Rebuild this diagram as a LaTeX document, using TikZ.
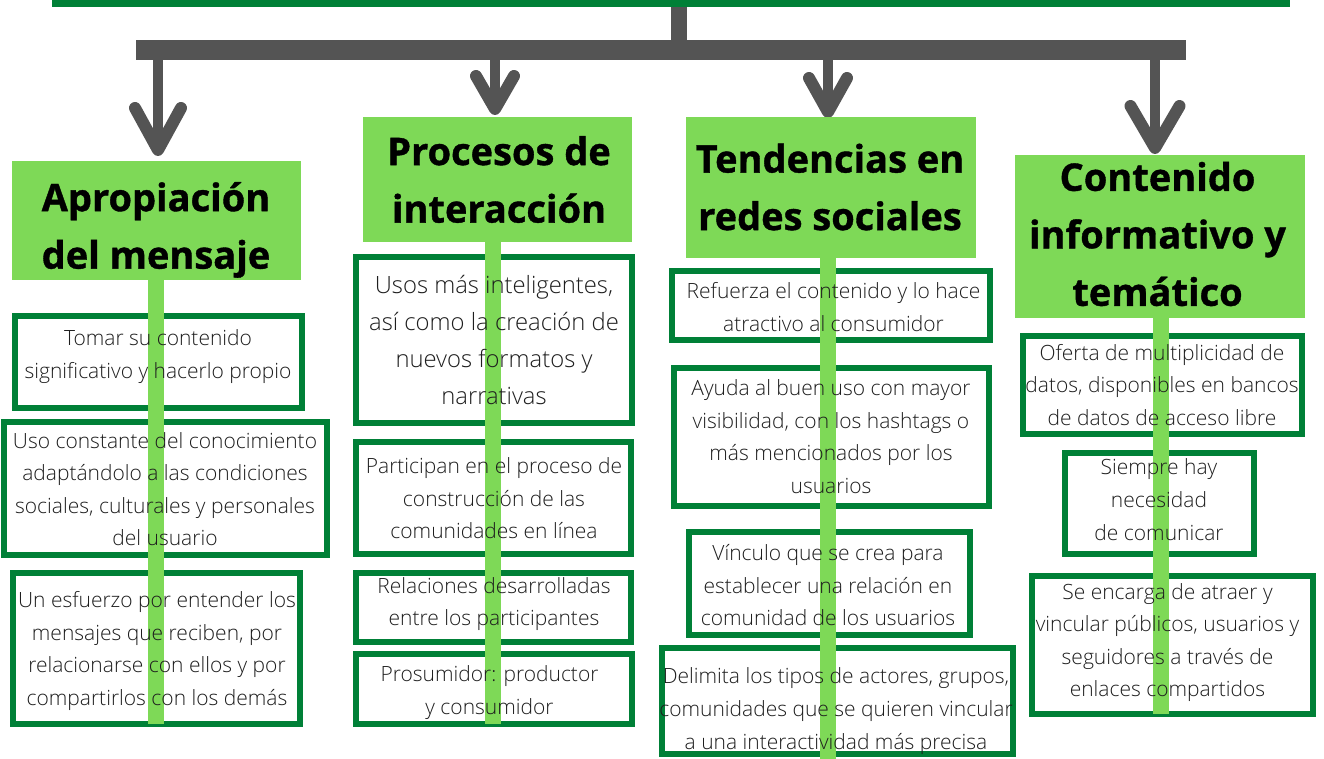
\documentclass[tikz,border=0pt]{standalone}
\usepackage{fontspec}
\setmainfont{Open Sans}
\newfontfamily\bodyfont{Open Sans Light}
\newfontfamily\headfont{Open Sans}[BoldFeatures={FakeBold=1.0}]
\usetikzlibrary{calc}
\definecolor{dkgreen}{RGB}{0,128,55}
\definecolor{ltgreen}{RGB}{126,217,87}
\definecolor{arrowgray}{RGB}{84,84,84}
\definecolor{txtgray}{RGB}{30,30,30}
\begin{document}
\begin{tikzpicture}[x=1pt,y=-1pt,
  card/.style={draw=dkgreen, line width=6pt, fill=white, inner sep=0pt},
  headbox/.style={fill=ltgreen, inner sep=0pt},
  headtxt/.style={align=center, inner sep=0pt, text=black,
    font=\headfont\bfseries\fontsize{38}{57.5}\selectfont,
    execute at begin node=\strut, execute at end node=\strut},
  bodytxt/.style={align=center, inner sep=0pt, text=txtgray,
    font=\bodyfont\fontsize{21}{32.6}\selectfont,
    execute at begin node=\strut, execute at end node=\strut},
  bigtxt/.style={bodytxt, font=\bodyfont\fontsize{23.8}{36.8}\selectfont},
  stripe/.style={draw=ltgreen, line width=16pt},
  stemline/.style={draw=arrowgray, line width=16pt},
  arrowline/.style={draw=arrowgray, line width=10pt},
  vhead/.style={draw=arrowgray, line width=12pt, line cap=round, line join=round}
]
\useasboundingbox (0,0) rectangle (1324,759);
\fill[white] (0,0) rectangle (1324,759);

% top bar and distribution bar
\node[fill=dkgreen, inner sep=0pt, minimum width=1238, minimum height=7] (top) at (671,3.5) {};
\node[fill=arrowgray, inner sep=0pt, minimum width=1050, minimum height=20] (bar) at (661,50) {};
\draw[stemline] (top.south -| 679,0) -- (bar.north -| 679,0);

% arrows
\coordinate (a1) at (158,150);
\coordinate (a2) at (495,109);
\coordinate (a3) at (828,112);
\coordinate (a4) at (1155,148);
\draw[arrowline] (bar.south -| a1) -- (a1);
\draw[arrowline] (bar.south -| a2) -- (a2);
\draw[arrowline] (bar.south -| a3) -- (a3);
\draw[arrowline] (bar.south -| a4) -- (a4);
\draw[vhead] ($(a1)+(-23,-42)$) -- (a1) -- ($(a1)+(23,-42)$);
\draw[vhead] ($(a2)+(-19,-33)$) -- (a2) -- ($(a2)+(19,-33)$);
\draw[vhead] ($(a3)+(-19,-34)$) -- (a3) -- ($(a3)+(19,-34)$);
\draw[vhead] ($(a4)+(-24.5,-42)$) -- (a4) -- ($(a4)+(24.5,-42)$);

% header boxes
\node[headbox, minimum width=289, minimum height=119] (h1) at (156.5,220.5) {};
\node[headbox, minimum width=269, minimum height=125] (h2) at (497.5,179.5) {};
\node[headbox, minimum width=290, minimum height=141] (h3) at (831,187.5) {};
\node[headbox, minimum width=290, minimum height=163] (h4) at (1160,236.5) {};

% cards
\node[card, minimum width=287, minimum height=92]  (b1a) at (158.5,362) {};
\node[card, minimum width=323, minimum height=133] (b1b) at (165.5,488.5) {};
\node[card, minimum width=287, minimum height=151] (b1c) at (156.5,648.5) {};
\node[card, minimum width=276, minimum height=166] (b2a) at (494,340) {};
\node[card, minimum width=275, minimum height=112] (b2b) at (493.5,498) {};
\node[card, minimum width=275, minimum height=69]  (b2c) at (493.5,607.5) {};
\node[card, minimum width=276, minimum height=70]  (b2d) at (494,689) {};
\node[card, minimum width=318, minimum height=69]  (b3a) at (831,305.5) {};
\node[card, minimum width=315, minimum height=138] (b3b) at (831.5,437) {};
\node[card, minimum width=281, minimum height=103] (b3c) at (829.5,583.5) {};
\node[card, minimum width=351, minimum height=106] (b3d) at (837.5,701) {};
\node[card, minimum width=279, minimum height=98]  (b4a) at (1162.5,385) {};
\node[card, minimum width=189, minimum height=101] (b4b) at (1159.5,503.5) {};
\node[card, minimum width=281, minimum height=138] (b4c) at (1172.5,645) {};

% stripes
\draw[stripe, shorten >=3pt] (h1.south -| 156,0) -- (b1c.south -| 156,0);
\draw[stripe, shorten >=3pt] (h2.south -| 493,0) -- (b2d.south -| 493,0);
\draw[stripe] (h3.south -| 828,0) -- (828,759);
\draw[stripe, shorten >=3pt] (h4.south -| 1160.5,0) -- (b4c.south -| 1160.5,0);

% header texts
\node[headtxt] (th1) at (156,234) {Apropiación\\del mensaje};
\node[headtxt] (th2) at (499,188) {Procesos de\\interacción};
\node[headtxt] (th3) at (830,195.5) {Tendencias en\\redes sociales};
\node[headtxt] (th4) at (1157.5,242.5) {Contenido\\informativo y\\temático};

% card texts
\node[bodytxt] (t1a) at (158,359) {Tomar su contenido\\significativo y hacerlo propio};
\node[bodytxt] (t1b) at (165,494) {Uso constante del conocimiento\\adaptándolo a las condiciones\\sociales, culturales y personales\\del usuario};
\node[bodytxt] (t1c) at (157,653.5) {Un esfuerzo por entender los\\mensajes que reciben, por\\relacionarse con ellos y por\\compartirlos con los demás};
\node[bigtxt] (t2a) at (494,345.5) {Usos más inteligentes,\\así como la creación de\\nuevos formatos y\\narrativas};
\node[bodytxt] (t2b) at (494,503) {Participan en el proceso de\\construcción de las\\comunidades en línea};
\node[bodytxt] (t2c) at (494,606.5) {Relaciones desarrolladas\\entre los participantes};
\node[bodytxt] (t2d) at (489.5,695) {Prosumidor: productor\\y consumidor};
\node[bodytxt] (t3a) at (833.5,312) {Refuerza el contenido y lo hace\\atractivo al consumidor};
\node[bodytxt] (t3b) at (831,441.5) {Ayuda al buen uso con mayor\\visibilidad, con los hashtags o\\más mencionados por los\\usuarios};
\node[bodytxt] (t3c) at (828,590) {Vínculo que se crea para\\establecer una relación en\\comunidad de los usuarios};
\node[bodytxt] (t3d) at (836,713.5) {Delimita los tipos de actores, grupos,\\comunidades que se quieren vincular\\a una interactividad más precisa};
\node[bodytxt] (t4a) at (1162,389.5) {Oferta de multiplicidad de\\datos, disponibles en bancos\\de datos de acceso libre};
\node[bodytxt] (t4b) at (1159,504.5) {Siempre hay\\necesidad\\de comunicar};
\node[bodytxt] (t4c) at (1167.5,645) {Se encarga de atraer y\\vincular públicos, usuarios y\\seguidores a través de\\enlaces compartidos};
\end{tikzpicture}
\end{document}
